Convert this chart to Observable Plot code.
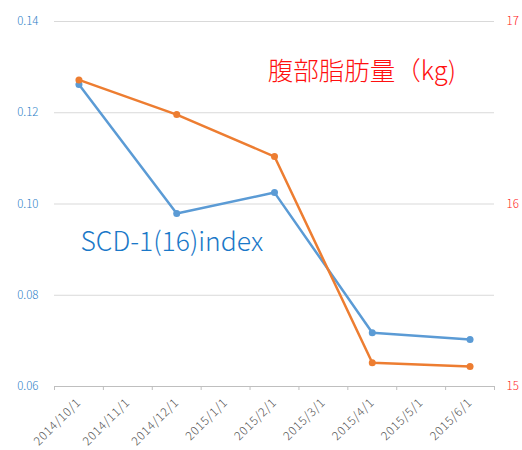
<!DOCTYPE html>
<html>
<head>
<meta charset="utf-8">
<script src="https://cdn.jsdelivr.net/npm/d3@7"></script>
<script src="https://cdn.jsdelivr.net/npm/@observablehq/plot@0.6"></script>
<style>
  html, body { margin: 0; padding: 0; background: #fff; }
  g[aria-label="x-axis tick label"] text { letter-spacing: 0.7px; }
</style>
</head>
<body>
<div id="chart"></div>
<script>
const categories = ["2014/10/1","2014/11/1","2014/12/1","2015/1/1","2015/2/1","2015/3/1","2015/4/1","2015/5/1","2015/6/1"];
const dataDates = ["2014/10/1","2014/12/1","2015/2/1","2015/4/1","2015/6/1"];
const scdValues = [0.1262, 0.0979, 0.1025, 0.0718, 0.0703];
const fatValues = [16.68, 16.49, 16.26, 15.13, 15.11];
const leftTicks = [0.06, 0.08, 0.10, 0.12, 0.14];
const rightTicks = [15, 16, 17];
const rightDomain = [15, 17];
const leftDomain = [0.06, 0.14];

const toLeft = w => leftDomain[0] + (w - rightDomain[0]) / (rightDomain[1] - rightDomain[0]) * (leftDomain[1] - leftDomain[0]);
const fromLeft = v => rightDomain[0] + (v - leftDomain[0]) / (leftDomain[1] - leftDomain[0]) * (rightDomain[1] - rightDomain[0]);

const scd = dataDates.map((d, i) => ({x: categories.indexOf(d), y: scdValues[i]}));
const fat = dataDates.map((d, i) => ({x: categories.indexOf(d), y: toLeft(fatValues[i])}));

const blue = "#5B9BD5";
const orange = "#ED7D31";
const font = "'Noto Sans CJK JP', 'Noto Sans', sans-serif";

const edges = d3.range(categories.length + 1).map(i => i - 0.5);

const chart = Plot.plot({
  width: 522,
  height: 450,
  marginLeft: 54,
  marginRight: 28,
  marginTop: 21,
  marginBottom: 64,
  style: {fontFamily: font, background: "#fff"},
  x: {domain: [-0.5, categories.length - 0.5]},
  y: {domain: leftDomain},
  marks: [
    Plot.ruleY(leftTicks, {stroke: "#d9d9d9", strokeWidth: 1}),
    Plot.ruleY([leftDomain[0]], {stroke: "#bfbfbf", strokeWidth: 1}),
    Plot.axisX({ticks: edges, tickFormat: () => "", tickSize: 4, stroke: "#bfbfbf", anchor: "bottom", label: null}),
    Plot.axisX({ticks: d3.range(categories.length), tickFormat: i => categories[i], tickSize: 0, tickPadding: 14, tickRotate: -45, anchor: "bottom", fill: "#555555", fontSize: 12, fontWeight: 300, label: null}),
    Plot.axisY({ticks: leftTicks, tickFormat: d3.format(".2f"), tickSize: 0, tickPadding: 16, anchor: "left", fill: "#2f7fc8", fontSize: 11.5, fontWeight: 300, label: null}),
    Plot.axisY({ticks: rightTicks.map(toLeft), tickFormat: v => String(Math.round(fromLeft(v))), tickSize: 0, tickPadding: 12, anchor: "right", fill: "#ff2020", fontSize: 11.5, fontWeight: 300, label: null}),
    Plot.line(scd, {x: "x", y: "y", stroke: blue, strokeWidth: 2.5}),
    Plot.dot(scd, {x: "x", y: "y", fill: blue, r: 3.5}),
    Plot.line(fat, {x: "x", y: "y", stroke: orange, strokeWidth: 2.5}),
    Plot.dot(fat, {x: "x", y: "y", fill: orange, r: 3.5}),
    Plot.text(["腹部脂肪量（kg)"], {x: 3.86, y: 0.1290, text: d => d, textAnchor: "start", fill: "#ff1010", fontSize: 25.5, fontWeight: 300}),
    Plot.text(["SCD-1(16)index"], {x: 0.03, y: 0.0915, text: d => d, textAnchor: "start", fill: "#1a78c8", fontSize: 26.5, fontWeight: 300})
  ]
});
document.getElementById("chart").appendChild(chart);
</script>
</body>
</html>
